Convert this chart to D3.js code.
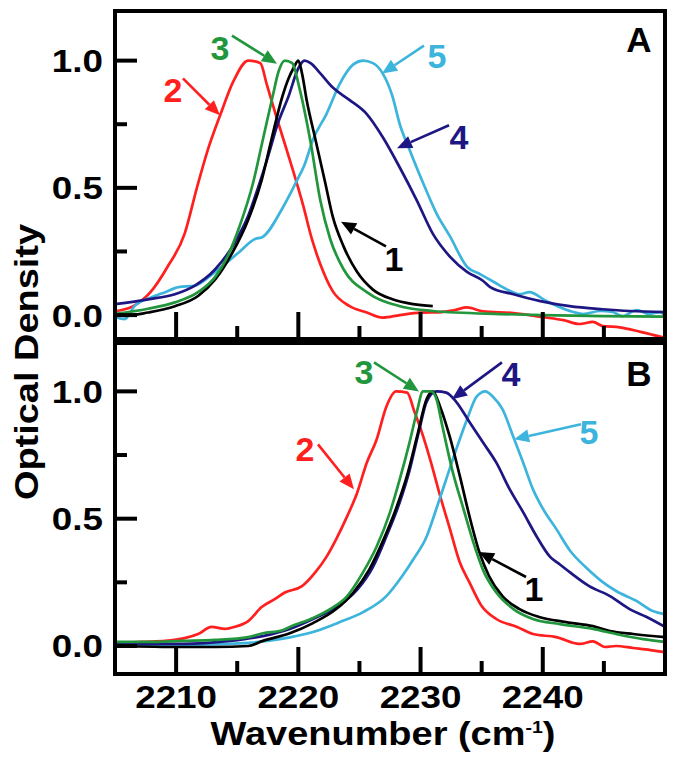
<!DOCTYPE html>
<html><head><meta charset="utf-8">
<script src="https://cdn.jsdelivr.net/npm/d3@7"></script>
<style>html,body{margin:0;padding:0;background:#fff;}svg{display:block;}</style>
</head><body>
<script>
// ---------- data ----------
const xTicksMajor = [2210, 2220, 2230, 2240];
const xTicksMinor = [2215, 2225, 2235, 2245];
const yTicksMajor = [0, 0.5, 1.0];
const yTicksMinor = [0.25, 0.75];
const xTickLabels = ["2210", "2220", "2230", "2240"];
const yTickLabels = ["0.0", "0.5", "1.0"];
const seriesNames = ["1", "2", "3", "4", "5"];
const seriesColors = ["#000000", "#ff1f1f", "#22963c", "#1e1682", "#3cb4dc"];

// Panel A [wavenumber, OD]
const a1 = [[2205,0.005],[2205.8,-0.003],[2207.7,0.01],[2209.9,0.035],[2211.8,0.075],[2213.2,0.14],[2214.6,0.245],[2215.9,0.375],[2217.0,0.53],[2217.8,0.69],[2218.7,0.86],[2219.2,0.93],[2219.6,0.97],[2220.0,1.0],[2220.3,0.95],[2220.7,0.84],[2221.4,0.69],[2222.2,0.52],[2222.8,0.39],[2223.7,0.27],[2224.8,0.17],[2226.1,0.10],[2227.7,0.062],[2229.4,0.043],[2231.0,0.035]];
const a2 = [[2205,0.015],[2206.5,0.035],[2207.9,0.09],[2209.3,0.19],[2210.7,0.32],[2211.7,0.50],[2212.6,0.65],[2213.6,0.785],[2214.7,0.92],[2215.9,1.0],[2216.9,0.99],[2217.4,0.91],[2218.2,0.78],[2219.3,0.61],[2220.4,0.43],[2221.1,0.30],[2221.8,0.20],[2222.8,0.095],[2224.2,0.035],[2225.6,0.01],[2226.9,-0.01],[2228.3,0.0],[2230.0,0.01],[2231.7,0.012],[2232.8,0.02],[2233.8,0.03],[2235.1,0.015],[2237.6,0.008],[2240.0,-0.008],[2241.7,-0.02],[2243.0,-0.035],[2244.1,-0.027],[2244.9,-0.043],[2246.3,-0.048],[2248.0,-0.066],[2250,-0.09]];
const a3 = [[2205,0.005],[2207.7,0.025],[2209.9,0.05],[2211.8,0.09],[2213.2,0.15],[2214.2,0.23],[2215.2,0.35],[2216.3,0.52],[2217.1,0.69],[2217.9,0.86],[2218.4,0.96],[2218.9,1.0],[2219.5,0.99],[2220.1,0.89],[2221.0,0.68],[2221.8,0.45],[2222.6,0.30],[2223.7,0.18],[2225.6,0.09],[2228.3,0.035],[2231,0.016],[2236.5,0.004],[2240,0.0],[2245,-0.004],[2250,-0.006]];
const a4 = [[2205,0.043],[2207.7,0.062],[2209.9,0.082],[2211.5,0.115],[2213.2,0.18],[2214.8,0.285],[2215.9,0.39],[2216.7,0.50],[2217.5,0.62],[2218.3,0.75],[2219.2,0.86],[2220.0,0.97],[2220.5,1.0],[2221.0,0.99],[2221.8,0.95],[2222.8,0.895],[2224.2,0.845],[2225.6,0.79],[2226.9,0.70],[2228.3,0.58],[2229.7,0.45],[2231.0,0.32],[2232.4,0.23],[2233.8,0.17],[2235.1,0.135],[2235.7,0.11],[2237.6,0.082],[2239.8,0.055],[2242.2,0.035],[2244.9,0.023],[2247.1,0.016],[2250,0.012]];
const a5 = [[2205,-0.008],[2205.8,-0.016],[2206.6,0.035],[2208.0,0.07],[2209.1,0.09],[2210.2,0.11],[2211.5,0.115],[2213.2,0.17],[2215.1,0.245],[2216.5,0.30],[2217.0,0.305],[2218.7,0.42],[2219.9,0.53],[2220.5,0.59],[2221.2,0.69],[2222.3,0.79],[2223.4,0.91],[2224.5,0.985],[2225.3,1.0],[2226.1,0.99],[2226.9,0.95],[2227.7,0.86],[2228.3,0.75],[2229.1,0.65],[2230.2,0.52],[2231.3,0.40],[2232.4,0.31],[2233.8,0.19],[2234.9,0.16],[2236.0,0.13],[2237.1,0.10],[2238.1,0.082],[2238.9,0.09],[2240.3,0.055],[2242.5,0.012],[2243.3,0.004],[2244.7,0.016],[2245.7,0.012],[2246.5,-0.004],[2247.7,0.02],[2248.7,0.004],[2249.6,0.012],[2250,-0.004]];

// Panel B [wavenumber, OD]
const b1 = [[2205,0.0],[2210.5,-0.004],[2213.2,-0.004],[2215.9,0.0],[2217.1,0.02],[2219.3,0.05],[2221.2,0.09],[2223.1,0.145],[2224.5,0.21],[2225.8,0.30],[2226.9,0.41],[2228.0,0.54],[2228.9,0.67],[2229.7,0.82],[2230.5,0.97],[2231.0,1.0],[2231.6,0.94],[2232.4,0.82],[2233.2,0.67],[2234.0,0.51],[2234.8,0.37],[2235.6,0.275],[2236.7,0.196],[2238.1,0.145],[2239.7,0.114],[2241.9,0.094],[2244.1,0.078],[2245.5,0.059],[2247.4,0.047],[2250,0.035]];
const b2 = [[2205,0.008],[2207.2,0.016],[2209.1,0.02],[2210.7,0.031],[2211.8,0.047],[2212.9,0.075],[2214.0,0.067],[2214.8,0.075],[2215.9,0.098],[2217.0,0.153],[2218.1,0.185],[2218.9,0.21],[2220.3,0.235],[2221.4,0.29],[2222.3,0.35],[2223.1,0.42],[2224.0,0.51],[2224.8,0.60],[2225.6,0.72],[2226.4,0.81],[2227.2,0.94],[2228.0,1.0],[2228.9,0.995],[2229.5,0.92],[2230.1,0.84],[2230.8,0.73],[2231.6,0.59],[2232.4,0.46],[2233.2,0.33],[2234.0,0.25],[2235.0,0.157],[2236.2,0.106],[2237.9,0.075],[2239.2,0.047],[2241.1,0.035],[2243.0,0.008],[2244.1,0.018],[2245.1,-0.004],[2246.0,0.0],[2247.4,-0.008],[2248.8,-0.016],[2250,-0.024]];
const b3 = [[2205,0.016],[2207.7,0.016],[2210.5,0.02],[2213.2,0.024],[2215.9,0.035],[2217.1,0.05],[2218.7,0.062],[2219.3,0.075],[2221.2,0.11],[2222.6,0.145],[2224.0,0.196],[2225.3,0.29],[2226.4,0.39],[2227.5,0.525],[2228.3,0.655],[2229.1,0.80],[2229.7,0.92],[2230.2,1.0],[2230.9,1.0],[2231.3,0.97],[2231.8,0.86],[2232.6,0.69],[2233.5,0.54],[2234.3,0.41],[2235.1,0.30],[2236.2,0.21],[2237.6,0.145],[2239.2,0.106],[2241.4,0.086],[2244.1,0.067],[2246.0,0.047],[2248.2,0.027],[2250,0.016]];
const b4 = [[2205,0.008],[2210.5,0.008],[2214.4,0.02],[2217.1,0.039],[2219.3,0.067],[2221.2,0.106],[2223.1,0.153],[2224.8,0.22],[2226.1,0.31],[2227.2,0.43],[2228.3,0.565],[2229.1,0.69],[2229.9,0.85],[2230.5,0.96],[2231.3,1.0],[2232.1,0.995],[2232.9,0.96],[2234.0,0.88],[2235.1,0.80],[2236.2,0.72],[2237.3,0.615],[2238.4,0.525],[2239.5,0.43],[2240.6,0.35],[2241.4,0.32],[2242.2,0.29],[2243.8,0.235],[2245.5,0.196],[2247.1,0.145],[2248.5,0.114],[2250,0.075]];
const b5 = [[2205,0.0],[2210,0.004],[2214.4,0.008],[2215.9,0.012],[2218.5,0.027],[2221.2,0.055],[2223.4,0.094],[2225.3,0.133],[2227.2,0.196],[2228.5,0.275],[2229.4,0.34],[2230.5,0.43],[2231.3,0.54],[2232.1,0.655],[2232.9,0.77],[2233.8,0.89],[2234.6,0.98],[2235.3,1.0],[2235.9,0.98],[2236.7,0.93],[2237.6,0.82],[2238.4,0.72],[2239.2,0.615],[2240.0,0.54],[2241.1,0.46],[2242.3,0.37],[2243.5,0.31],[2244.8,0.255],[2246.0,0.216],[2247.7,0.176],[2249.0,0.137],[2250,0.125]];

// annotations: [label, labelX, labelY, arrowFromX, arrowFromY, arrowToX, arrowToY] in data units
const annotA = [["2",2209.75,0.883,2210.56,0.93,2213.59,0.785],["3",2213.59,1.051,2214.57,1.098,2218.25,0.988],["5",2231.35,1.02,2230.28,1.059,2226.85,0.949],["4",2233.15,0.699,2232.33,0.746,2228.07,0.656],["1",2227.83,0.219,2227.17,0.27,2223.49,0.367]];
const annotB = [["2",2220.55,0.773,2221.61,0.792,2224.55,0.616],["3",2225.37,1.075,2226.19,1.114,2229.87,1.0],["4",2237.4,1.067,2236.66,1.114,2232.57,0.969],["5",2243.78,0.839,2243.13,0.871,2237.65,0.812],["1",2239.28,0.224,2238.63,0.271,2234.78,0.369]];

// ---------- drawing ----------
const W = 679, H = 763;
const FONT = "'Liberation Sans', Arial, Helvetica, sans-serif";
const SX = 1.15;
const svg = d3.select("body").append("svg").attr("width", W).attr("height", H);

const x = d3.scaleLinear().domain([2205, 2250]).range([115, 665]);
const panels = [
  {name:"A", y: d3.scaleLinear().domain([-0.094, 1.195]).range([339, 11]), series:[a1,a2,a3,a4,a5], annot: annotA, letterY: 52},
  {name:"B", y: d3.scaleLinear().domain([-0.11, 1.19]).range([674, 343]), series:[b1,b2,b3,b4,b5], annot: annotB, letterY: 386}
];

function stretchedText(g, tx, ty, str, size, anchor, sx, fill, rot) {
  const t = g.append("g").attr("transform", `translate(${tx},${ty})` + (rot ? ` rotate(${rot})` : "") + ` scale(${sx},1)`)
    .append("text").attr("text-anchor", anchor).attr("font-family", FONT).attr("font-weight", "bold")
    .attr("font-size", size).attr("fill", fill || "#000");
  if (str !== null) t.text(str);
  return t;
}

panels.forEach((p, pi) => {
  const g = svg.append("g");
  const [y0, y1] = p.y.range();
  const clipId = "clip" + pi;
  svg.append("clipPath").attr("id", clipId).append("rect")
    .attr("x", x.range()[0]).attr("y", y1).attr("width", x.range()[1] - x.range()[0]).attr("height", y0 - y1);

  const line = d3.line().curve(d3.curveMonotoneX).x(d => x(d[0])).y(d => p.y(d[1]));
  const order = [1, 4, 3, 0, 2]; // draw order
  order.forEach(i => {
    g.append("path").datum(p.series[i]).attr("d", line).attr("fill", "none")
      .attr("stroke", seriesColors[i]).attr("stroke-width", 2.7).attr("stroke-linejoin", "round")
      .attr("clip-path", `url(#${clipId})`);
  });

  // ticks (inward)
  xTicksMajor.forEach(v => g.append("line").attr("x1", x(v)).attr("x2", x(v)).attr("y1", y0).attr("y2", y0 - 27).attr("stroke", "#000").attr("stroke-width", 4));
  xTicksMinor.forEach(v => g.append("line").attr("x1", x(v)).attr("x2", x(v)).attr("y1", y0).attr("y2", y0 - 13).attr("stroke", "#000").attr("stroke-width", 4));
  yTicksMajor.forEach(v => g.append("line").attr("x1", x.range()[0]).attr("x2", x.range()[0] + 22).attr("y1", p.y(v)).attr("y2", p.y(v)).attr("stroke", "#000").attr("stroke-width", 4));
  yTicksMinor.forEach(v => g.append("line").attr("x1", x.range()[0]).attr("x2", x.range()[0] + 12).attr("y1", p.y(v)).attr("y2", p.y(v)).attr("stroke", "#000").attr("stroke-width", 4));

  // y tick labels
  yTicksMajor.forEach((v, k) => stretchedText(g, 103, p.y(v) + 11.5, yTickLabels[k], 32, "end", SX));

  // frame
  g.append("rect").attr("x", x.range()[0]).attr("y", y1).attr("width", x.range()[1] - x.range()[0]).attr("height", y0 - y1)
    .attr("fill", "none").attr("stroke", "#000").attr("stroke-width", 4);

  // panel letter
  stretchedText(g, 639, p.letterY, p.name, 35, "middle", 1.0);

  // annotations
  p.annot.forEach(a => {
    const ci = seriesNames.indexOf(a[0]);
    const col = seriesColors[ci];
    stretchedText(g, x(a[1]), p.y(a[2]) + 12, a[0], 34, "middle", 1.0, col);
    const fx = x(a[3]), fy = p.y(a[4]), tx = x(a[5]), ty = p.y(a[6]);
    const ang = Math.atan2(ty - fy, tx - fx);
    const L = 15, Wd = 6.5;
    const bx = tx - L * Math.cos(ang), by = ty - L * Math.sin(ang);
    g.append("line").attr("x1", fx).attr("y1", fy).attr("x2", bx).attr("y2", by).attr("stroke", col).attr("stroke-width", 2.6);
    const nx = -Math.sin(ang), ny = Math.cos(ang);
    g.append("path").attr("d", `M${tx},${ty}L${bx + nx * Wd},${by + ny * Wd}L${bx - nx * Wd},${by - ny * Wd}Z`).attr("fill", col);
  });
});

// x tick labels (bottom panel)
xTicksMajor.forEach((v, k) => stretchedText(svg, x(v), 708, xTickLabels[k], 32, "middle", SX));

// axis titles
const xt = stretchedText(svg, 383, 745, null, 33, "middle", SX);
xt.append("tspan").text("Wavenumber (cm");
xt.append("tspan").attr("font-size", 17).attr("dy", -12).text("-1");
xt.append("tspan").attr("dy", 12).text(")");

stretchedText(svg, 38, 362, "Optical Density", 33, "middle", SX, "#000", -90);
</script>
</body></html>
